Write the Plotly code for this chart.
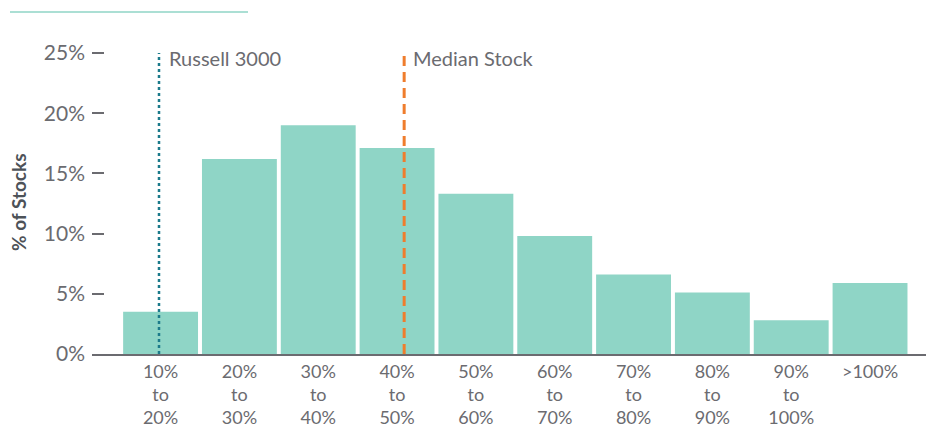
import plotly.graph_objects as go

categories = ["10%<br>to<br>20%", "20%<br>to<br>30%", "30%<br>to<br>40%", "40%<br>to<br>50%",
              "50%<br>to<br>60%", "60%<br>to<br>70%", "70%<br>to<br>80%", "80%<br>to<br>90%",
              "90%<br>to<br>100%", ">100%"]
pct_stocks = [3.5, 16.2, 19.0, 17.1, 13.3, 9.8, 6.6, 5.1, 2.8, 5.9]
y_ticks = [0, 5, 10, 15, 20, 25]
y_tick_text = ["0%", "5%", "10%", "15%", "20%", "25%"]
russell_pos = -0.02
median_pos = 3.09
ref_top = 25

FONT = "Lato"
GRAY = "#6b6b70"

fig = go.Figure()
fig.add_trace(go.Bar(x=list(range(len(categories))), y=pct_stocks,
                     marker=dict(color="#8fd5c6", line=dict(width=0)), hoverinfo="skip"))

fig.add_trace(go.Scatter(x=[russell_pos, russell_pos], y=[0, ref_top], mode="lines",
                         line=dict(color="#1b7a8a", width=2.5, dash="dot"), hoverinfo="skip"))
fig.add_trace(go.Scatter(x=[median_pos, median_pos], y=[0, ref_top], mode="lines",
                         line=dict(color="#ef7d2d", width=3, dash="10px,6px"), hoverinfo="skip"))

fig.add_annotation(x=russell_pos, y=ref_top, text="Russell 3000", showarrow=False,
                   xanchor="left", yanchor="middle", xshift=8, yshift=-5,
                   font=dict(family=FONT, size=20, color=GRAY))
fig.add_annotation(x=median_pos, y=ref_top, text="Median Stock", showarrow=False,
                   xanchor="left", yanchor="middle", xshift=7, yshift=-5,
                   font=dict(family=FONT, size=20, color=GRAY))

fig.add_annotation(xref="paper", yref="paper", x=(18 - 92) / 834, y=(354 - 202) / 314,
                   text="<b>% of Stocks</b>", textangle=-90, showarrow=False,
                   xanchor="center", yanchor="middle",
                   font=dict(family=FONT, size=19, color="#4d5258"))

fig.add_shape(type="line", xref="paper", yref="paper", x0=(10-92)/834, x1=(248-92)/834,
              y0=(354-12)/314, y1=(354-12)/314, line=dict(color="#8fd5c6", width=1.5))

fig.update_layout(
    width=926, height=435,
    margin=dict(l=92, r=0, t=40, b=81),
    plot_bgcolor="white", paper_bgcolor="white",
    showlegend=False, bargap=0.05,
    font=dict(family=FONT, color=GRAY),
    xaxis=dict(range=[-0.87, 9.71], tickvals=list(range(len(categories))), ticktext=categories,
               showgrid=False, zeroline=False, showline=True, linecolor="#6b6b70", linewidth=2,
               ticks="", tickfont=dict(family=FONT, size=18, color=GRAY)),
    yaxis=dict(range=[0, 26.08], tickvals=y_ticks, ticktext=y_tick_text,
               showgrid=False, zeroline=False, showline=False,
               ticks="inside", ticklen=12, tickwidth=2, tickcolor=GRAY,
               ticklabelstandoff=6,
               tickfont=dict(family=FONT, size=21, color=GRAY)),
)

fig.write_html("out.html")
